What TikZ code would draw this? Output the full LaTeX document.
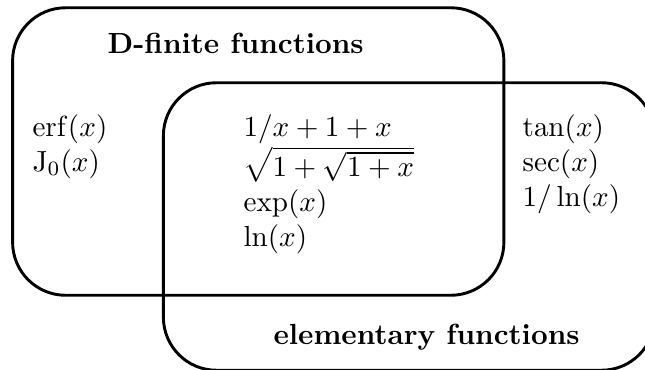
\documentclass[tikz,border=0pt]{standalone}
\usepackage{amsmath}
\usepackage{tikz}
\usetikzlibrary{positioning,calc}

\begin{document}
\begin{tikzpicture}[
    set/.style={draw, line width=1pt, rounded corners=0.64cm, minimum width=5.93cm,
                minimum height=3.47cm, inner sep=0pt},
    title/.style={font=\bfseries, anchor=base west, inner sep=0pt},
    members/.style={align=left, anchor=north west, inner sep=0pt}
]
\useasboundingbox (0,0) rectangle (7.785,4.454);

%% The two sets
\node[set] (dfin) at (3.117,2.625) {};
\node[set] (elem) at (4.937,1.720) {};

%% Set names
\node[title] (dfintitle) at (1.292,3.814) {D-finite functions};
\node[title] (elemtitle) at (3.295,0.290) {elementary functions};

%% Members
\node[members] (onlyd) at (0.386,3.079) {$\operatorname{erf}(x)$\\$\mathrm{J}_0(x)$};
\node[members] (both) at (2.933,3.079) {$1/x+1+x$\\$\sqrt{1+\sqrt{1+x}}$\\$\exp(x)$\\$\ln(x)$};
\node[members] (onlye) at (6.301,3.079) {$\tan(x)$\\$\sec(x)$\\$1/\ln(x)$};

\end{tikzpicture}
\end{document}
